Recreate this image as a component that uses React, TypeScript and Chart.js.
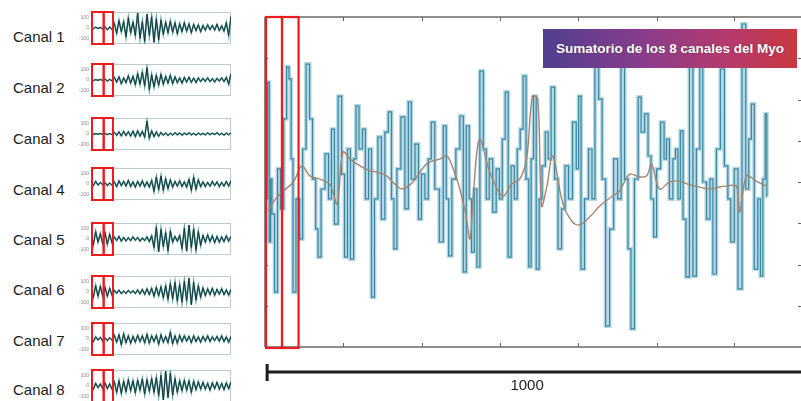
import React, { useEffect, useRef } from "react";
import { Chart, registerables } from "chart.js";

Chart.register(...registerables);

// ---- per-channel EMG traces (one value per sample step) ----
const channelNames = ["Canal 1", "Canal 2", "Canal 3", "Canal 4", "Canal 5", "Canal 6", "Canal 7", "Canal 8"];

const canal1 = [5, -6, 8, -4, 6, -10, 12, -18, 10, -14, 45, -50, 70, -35, 60, -85, 95, -45, 55, -70, 140, -95, 60, -125, 130, -70, 105, -135, 85, -110, 75, -60, 55, -45, 65, -40, 50, -55, 40, -35, 50, -30, 40, -45, 35, -25, 30, -35, 25, -20, 30, -15, 25, -20, 35, -25, 20, -30, 50, -70, 110];
const canal2 = [3, -5, 4, -3, 5, -4, 8, -10, 6, -8, 25, -20, 30, -35, 20, -25, 40, -30, 35, -45, 60, -40, 75, -55, 115, -90, 50, -65, 45, -50, 55, -40, 35, -30, 45, -35, 30, -25, 20, -30, 25, -20, 28, -22, 18, -25, 20, -15, 15, -12, 20, -15, 12, -18, 15, -10, 20, -15, 25, -40, 60];
const canal3 = [2, -3, 3, -2, 4, -3, 5, -6, 4, -5, 15, -12, 20, -18, 25, -15, 22, -20, 28, -25, 30, -20, 25, -30, 120, -40, 30, -25, 20, -22, 15, -12, 10, -14, 8, -10, 12, -8, 10, -12, 8, -6, 10, -8, 6, -10, 8, -6, 6, -8, 10, -6, 8, -5, 12, -8, 6, -10, 8, -6, 10];
const canal4 = [10, -15, 25, -10, 15, -8, 12, -15, 10, -12, 20, -25, 30, -15, 25, -20, 35, -25, 20, -30, 25, -20, 30, -25, 20, -30, 35, -70, 65, -55, 75, -60, 50, -45, 40, -30, 25, -20, 30, -25, 20, -30, 45, -60, 65, -50, 40, -25, 20, -25, 15, -20, 25, -15, 20, -25, 15, -20, 25, -20, 30];
const canal5 = [40, -55, 70, -30, 50, -45, 60, -50, 45, -35, 20, -15, 25, -20, 15, -18, 12, -15, 20, -12, 15, -20, 10, -15, 20, -25, 30, -80, 110, -120, 90, -70, 60, -110, 75, -30, 25, -20, 35, -90, 100, -115, 130, -80, 95, -105, 70, -60, 35, -30, 40, -25, 30, -35, 25, -30, 20, -25, 30, -20, 25];
const canal6 = [30, -50, 60, -40, 55, -35, 45, -40, 35, -30, 15, -12, 18, -15, 10, -14, 16, -10, 12, -15, 20, -18, 25, -22, 30, -25, 35, -40, 45, -35, 50, -55, 60, -70, 80, -65, 90, -85, 70, -95, 100, -80, 130, -120, 90, -75, 60, -50, 40, -35, 30, -25, 35, -30, 25, -20, 30, -25, 20, -30, 25];
const canal7 = [15, -25, 20, -10, 15, -20, 10, -15, 12, -10, 35, -30, 40, -55, 50, -35, 30, -40, 25, -30, 35, -25, 30, -35, 45, -40, 30, -25, 35, -50, 40, -30, 25, -35, 65, -45, 30, -40, 35, -25, 30, -20, 25, -35, 30, -25, 20, -30, 25, -20, 30, -25, 20, -15, 25, -20, 30, -25, 20, -30, 25];
const canal8 = [20, -30, 25, -15, 20, -25, 30, -25, 20, -30, 40, -60, 50, -70, 45, -55, 60, -45, 50, -65, 55, -40, 65, -75, 60, -50, 70, -60, 80, -90, 100, -130, 140, -110, 120, -85, 70, -60, 50, -45, 55, -40, 50, -60, 45, -35, 40, -30, 35, -30, 25, -40, 30, -25, 35, -30, 25, -35, 30, -25, 40];

const channels = [canal1, canal2, canal3, canal4, canal5, canal6, canal7, canal8];
const channelTicks = [100, 0, -100];
const channelWindows = [[0, 5], [5, 9]];

// ---- summed signal of the 8 channels (sample index, amplitude) ----
const sumT = [0, 2, 6, 7, 11, 17, 22, 28, 34, 39, 43, 47, 50, 58, 64, 69, 77, 82, 88, 94, 97, 105, 112, 118, 123, 129, 137, 142, 148, 153, 159, 165, 168, 176, 181, 187, 193, 198, 204, 211, 217, 224, 230, 236, 239, 247, 254, 262, 267, 273, 281, 286, 292, 299, 305, 310, 318, 327, 333, 338, 342, 350, 357, 365, 370, 376, 381, 385, 391, 395, 402, 408, 413, 419, 426, 432, 438, 443, 449, 454, 460, 466, 471, 477, 482, 488, 492, 497, 501, 507, 512, 518, 524, 529, 535, 542, 548, 555, 561, 568, 576, 582, 585, 591, 598, 606, 611, 617, 625, 630, 638, 645, 653, 660, 666, 673, 679, 684, 692, 698, 703, 711, 716, 722, 726, 733, 741, 746, 750, 757, 763, 767, 772, 776, 782, 787, 795, 800, 808, 813, 819, 827, 832, 838, 845, 853, 860, 866, 871, 879, 885, 894, 899, 905, 909, 916, 922, 926, 931, 935, 937];
const sumV = [-0.41, 2.42, -1.45, 0.07, -0.78, -2.67, 0.32, -0.65, 1.53, 2.79, 2.5, 0.56, -2.67, -0.41, -1.38, 0.8, 2.86, 1.53, 0.07, -1.14, -1.82, -0.17, 0.68, -0.41, 1.28, -1.02, 2.08, 0.19, -1.82, 0.8, -1.87, 0.56, 1.84, 0.8, 1.28, -0.41, 0.8, -2.79, -0.41, 1.09, -0.9, 1.21, 1.7, -0.41, -1.62, 0.32, 1.58, -0.65, 1.94, 0.07, 0.92, -0.9, 0.19, -0.41, 0.56, 1.45, -0.17, -1.45, 1.36, -0.41, -1.79, 0.07, 0.8, 1.6, -2.18, 1.36, -0.41, -1.7, -0.17, -2.06, 2.69, 0.8, -0.41, 0.56, -0.73, 0.32, -0.41, 1.04, 2.18, -1.82, 0.39, -0.41, 0.8, 1.28, 2.57, 0.07, -2.06, 0.56, 2.08, -2.11, -0.41, 0.39, 1.21, 0.56, 2.3, 0.07, -1.62, -0.65, 0.39, -0.41, 1.45, 0.32, 2.08, -2.11, -0.41, 0.8, -0.41, 3.35, 2.01, 0.07, -3.49, -1.14, 0.56, -0.41, 3.22, 0.07, -1.62, -3.56, 0.07, 2.06, 1.21, 1.65, 0.63, -0.41, -1.33, 0.32, 1.45, 0.56, 1.04, -0.41, 0.56, 0.8, -0.41, 1.24, -0.9, -2.3, 3.1, -2.28, 0.8, 2.98, 0, -0.9, 0.07, -2.23, 0.8, 2.74, 0.39, -0.41, -1.45, 0.32, -2.59, 3.83, -0.17, 1.04, 1.89, -2.11, -0.41, -2.28, 0.07, 1.65, -0.34];

// ---- smoothed envelope drawn over the sum ----
const trendT = [2, 9, 24, 49, 65, 80, 99, 118, 131, 142, 155, 174, 193, 206, 224, 239, 254, 273, 299, 324, 337, 352, 361, 372, 380, 387, 398, 417, 441, 458, 473, 486, 497, 507, 514, 524, 535, 554, 572, 585, 604, 623, 647, 660, 679, 698, 711, 720, 735, 754, 772, 791, 804, 819, 834, 847, 860, 879, 885, 898, 916, 935];
const trendV = [-0.7, -0.53, -0.29, 0, 0.39, 0.15, 0.07, -0.07, -0.53, 0.73, 0.56, 0.39, 0.27, 0.24, 0.15, -0.05, -0.17, 0, 0.44, 0.56, 0.63, 0.19, -0.17, -0.78, -1.38, -0.17, 1.04, 0.24, -0.34, -0.05, 0.07, 0.56, 2.08, 2.01, -0.58, -0.1, 0.63, -0.53, -0.97, -1.04, -0.85, -0.58, -0.34, -0.22, 0.19, 0.12, 0.15, 0.44, -0.17, 0, 0.02, -0.07, -0.1, -0.15, -0.17, -0.12, -0.1, -0.1, -0.73, 0.15, 0.02, -0.1];

const sumWindows = [[-4, 26], [26, 57]];
const sumXTicks = [142, 290, 436, 582, 730, 874];
const sumYTicks = [-3, -2, -1, 0, 1, 2, 3];
const scaleBarSamples = 1000;
const sumTitle = "Sumatorio de los 8 canales del Myo";

const RED = "#ec1c1f";

const channelFrame = {
  id: "channelFrame",
  beforeDatasetsDraw(chart: any) {
    const { ctx, chartArea: a, scales } = chart;
    ctx.save();
    ctx.strokeStyle = "#bccbcf";
    ctx.lineWidth = 1;
    ctx.strokeRect(a.left + 0.5, a.top + 0.5, a.right - a.left - 1, a.bottom - a.top - 1);
    ctx.fillStyle = "#8a8a8a";
    ctx.font = "5px Arial, 'Liberation Sans', sans-serif";
    ctx.textAlign = "right";
    ctx.textBaseline = "middle";
    channelTicks.forEach((t) => {
      ctx.fillText(String(t), a.left - 2, scales.y.getPixelForValue(t));
    });
    ctx.restore();
  },
  afterDatasetsDraw(chart: any) {
    const { ctx, chartArea: a, scales } = chart;
    ctx.save();
    ctx.strokeStyle = RED;
    ctx.lineWidth = 2;
    channelWindows.forEach(([s, e]) => {
      const x0 = scales.x.getPixelForValue(s);
      const x1 = scales.x.getPixelForValue(e);
      ctx.strokeRect(x0 + 1, a.top, x1 - x0, a.bottom - a.top);
    });
    ctx.restore();
  },
};

const sumFrame = {
  id: "sumFrame",
  beforeDatasetsDraw(chart: any) {
    const { ctx, chartArea: a, scales } = chart;
    ctx.save();
    ctx.strokeStyle = "#8e8e8e";
    ctx.lineWidth = 2;
    ctx.beginPath();
    ctx.moveTo(a.left, a.top);
    ctx.lineTo(a.right, a.top);
    ctx.moveTo(a.left, a.bottom);
    ctx.lineTo(a.right, a.bottom);
    ctx.moveTo(a.left, a.top);
    ctx.lineTo(a.left, a.bottom);
    ctx.stroke();
    ctx.strokeStyle = "#666";
    ctx.lineWidth = 1;
    ctx.beginPath();
    sumXTicks.forEach((t) => {
      const x = Math.round(scales.x.getPixelForValue(t)) + 0.5;
      ctx.moveTo(x, a.top);
      ctx.lineTo(x, a.top + 4);
      ctx.moveTo(x, a.bottom);
      ctx.lineTo(x, a.bottom - 4);
    });
    sumYTicks.forEach((t) => {
      const y = Math.round(scales.y.getPixelForValue(t)) + 0.5;
      ctx.moveTo(a.left, y);
      ctx.lineTo(a.left + 3, y);
      ctx.moveTo(a.right, y);
      ctx.lineTo(a.right - 3, y);
    });
    ctx.stroke();
    ctx.restore();
  },
  afterDraw(chart: any) {
    const { ctx, chartArea: a, scales } = chart;
    ctx.save();
    ctx.strokeStyle = RED;
    ctx.lineWidth = 2.2;
    sumWindows.forEach(([s, e]) => {
      const x0 = scales.x.getPixelForValue(s);
      const x1 = scales.x.getPixelForValue(e);
      ctx.strokeRect(x0 + 1, a.top, x1 - x0, a.bottom - a.top + 1);
    });
    // scale bar
    const bx0 = scales.x.getPixelForValue(0);
    const bx1 = scales.x.getPixelForValue(scaleBarSamples);
    const by = a.bottom + 25;
    ctx.strokeStyle = "#1c1c1c";
    ctx.lineWidth = 3;
    ctx.beginPath();
    ctx.moveTo(bx0, by);
    ctx.lineTo(bx1, by);
    ctx.moveTo(bx0, by - 8);
    ctx.lineTo(bx0, by + 9);
    ctx.stroke();
    ctx.fillStyle = "#1c1c1c";
    ctx.font = "15px Arial, 'Liberation Sans', sans-serif";
    ctx.textAlign = "center";
    ctx.textBaseline = "middle";
    ctx.fillText(String(scaleBarSamples), (bx0 + bx1) / 2 - 7, by + 14);
    ctx.restore();
  },
};

function ChannelChart({ values, top }: { values: number[]; top: number }) {
  const ref = useRef<HTMLCanvasElement>(null);
  useEffect(() => {
    const pts = values.map((v, i) => ({ x: i, y: v }));
    const chart = new Chart(ref.current as HTMLCanvasElement, {
      type: "line",
      data: {
        datasets: [
          { data: pts, borderColor: "#112e31", borderWidth: 0.9, pointRadius: 0 },
          { data: pts, borderColor: "#4e9a97", borderWidth: 1.7, pointRadius: 0 },
        ],
      },
      options: {
        animation: false,
        responsive: false,
        events: [],
        layout: { padding: { left: 13, right: 2, top: 2, bottom: 2 } },
        plugins: { legend: { display: false }, tooltip: { enabled: false } },
        scales: {
          x: { type: "linear", min: 0, max: 60, display: false },
          y: { min: -150, max: 150, display: false },
        },
      },
      plugins: [channelFrame],
    } as any);
    return () => chart.destroy();
  }, [values]);
  return (
    <canvas
      ref={ref}
      width={155}
      height={36}
      style={{ position: "absolute", left: 78, top: top - 2, width: 155, height: 36 }}
    />
  );
}

function SumChart() {
  const ref = useRef<HTMLCanvasElement>(null);
  useEffect(() => {
    const sum = sumT.map((t, i) => ({ x: t, y: sumV[i] }));
    const trend = trendT.map((t, i) => ({ x: t, y: trendV[i] }));
    const chart = new Chart(ref.current as HTMLCanvasElement, {
      type: "line",
      data: {
        datasets: [
          { data: trend, borderColor: "#a5846f", borderWidth: 1.4, tension: 0.35, pointRadius: 0 },
          { data: sum, borderColor: "#3a86a2", borderWidth: 1.2, stepped: "middle", pointRadius: 0 },
          { data: sum, borderColor: "#b5d8e3", borderWidth: 4, stepped: "middle", pointRadius: 0 },
        ],
      },
      options: {
        animation: false,
        responsive: false,
        events: [],
        layout: { padding: { left: 10, right: 0, top: 17, bottom: 54 } },
        plugins: { legend: { display: false }, tooltip: { enabled: false } },
        scales: {
          x: { type: "linear", min: -4, max: 1000, display: false },
          y: { min: -4, max: 4, display: false },
        },
      },
      plugins: [sumFrame],
    } as any);
    return () => chart.destroy();
  }, []);
  return (
    <canvas
      ref={ref}
      width={546}
      height={401}
      style={{ position: "absolute", left: 255, top: 0, width: 546, height: 401 }}
    />
  );
}

const channelTops = [12, 64, 118, 168, 223, 276, 323, 370];
const labelCenters = [37, 88, 139, 190, 240, 290, 341, 390];

export default function App() {
  return (
    <div
      style={{
        position: "fixed",
        left: 0,
        top: 0,
        width: 801,
        height: 401,
        overflow: "hidden",
        background: "#ffffff",
        fontFamily: "Arial, 'Liberation Sans', sans-serif",
      }}
    >
      {channelNames.map((name, i) => (
        <div
          key={name}
          style={{
            position: "absolute",
            left: 13,
            top: labelCenters[i] - 10,
            height: 20,
            lineHeight: "20px",
            fontSize: 15,
            color: "#1c1c1c",
            whiteSpace: "nowrap",
          }}
        >
          {name}
        </div>
      ))}
      {channels.map((vals, i) => (
        <ChannelChart key={i} values={vals} top={channelTops[i]} />
      ))}
      <SumChart />
      <div
        style={{
          position: "absolute",
          left: 543,
          top: 29,
          width: 254,
          height: 39,
          background: "linear-gradient(90deg, #503f8f 0%, #8a3d8b 40%, #b53a6e 72%, #c7383f 100%)",
          color: "#ffffff",
          fontWeight: "bold",
          fontSize: 13.5,
          lineHeight: "39px",
          textAlign: "center",
          whiteSpace: "nowrap",
          textShadow: "0 0 2px rgba(0,0,0,0.35)",
        }}
      >
        {sumTitle}
      </div>
    </div>
  );
}
